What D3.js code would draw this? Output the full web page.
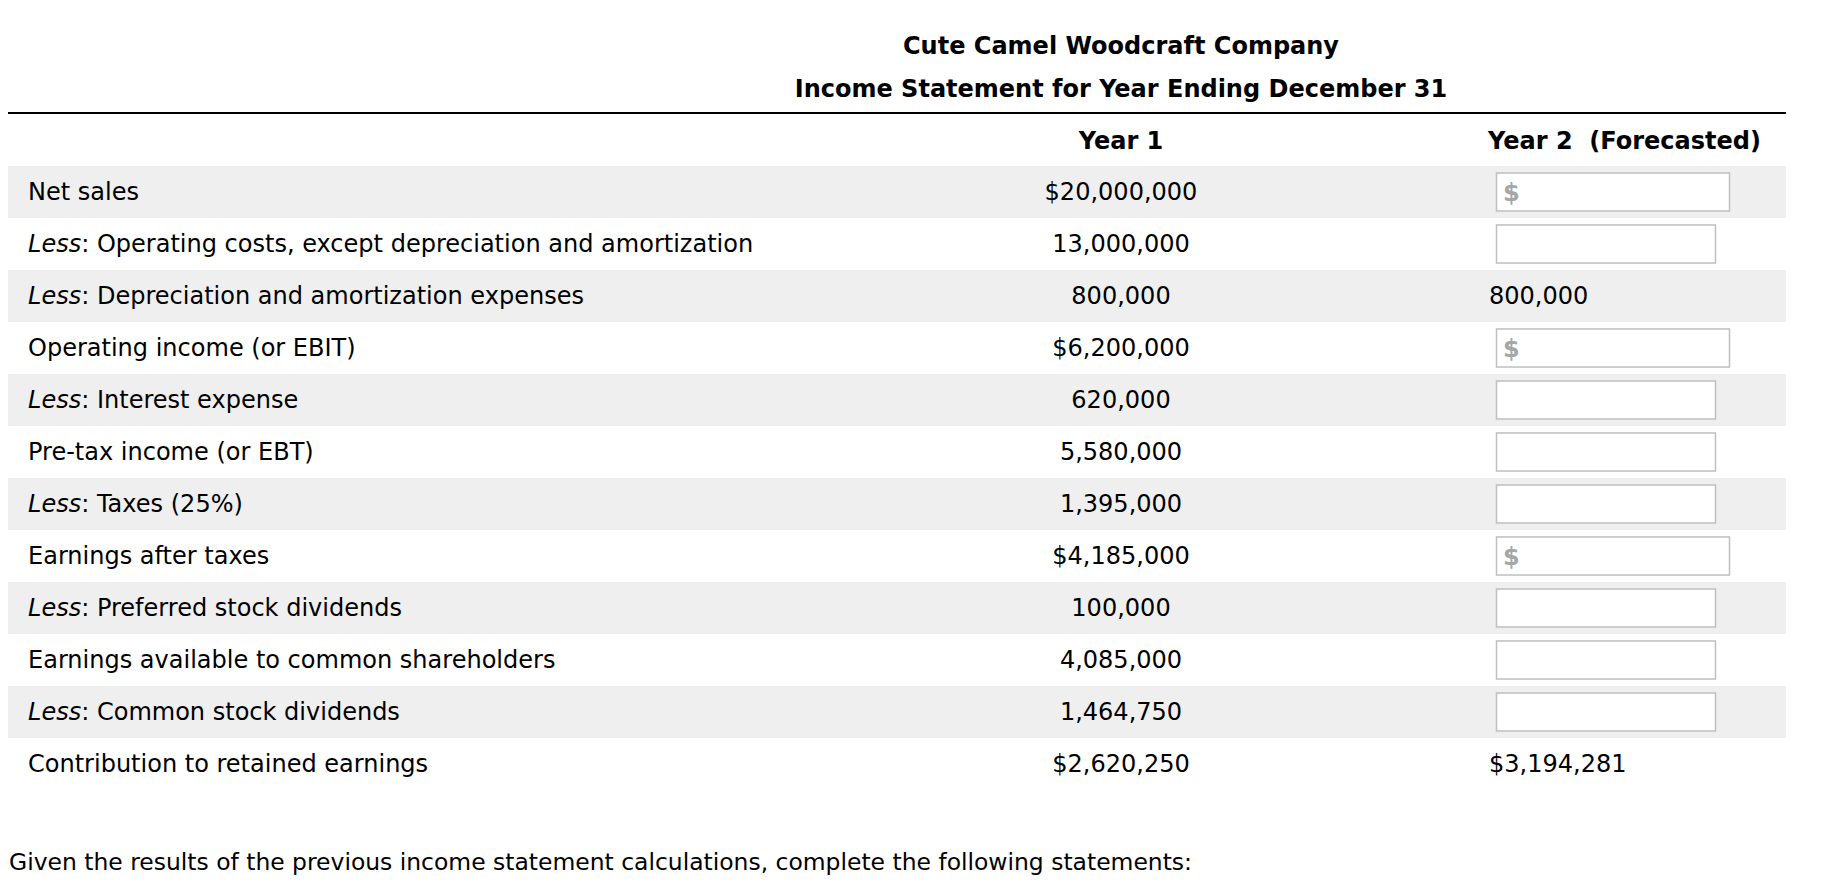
<!DOCTYPE html>
<html>
<head>
    <meta charset="utf-8">
    <title>Income Statement</title>
    <script src="https://cdn.jsdelivr.net/npm/d3@7"></script>
    <style>
        body { margin: 0; background: #fff; }
        text { font-family: "DejaVu Sans", Verdana, sans-serif; fill: #000; }
    </style>
</head>
<body>
<svg id="chart"></svg>
<script>
    const title = 'Cute Camel Woodcraft Company';
    const subtitle = 'Income Statement for Year Ending December 31';
    const columns = ['Year 1', 'Year 2  (Forecasted)'];
    const lessPrefix = [false, true, true, false, true, false, true, false, true, false, true, false];
    const labels = [
        'Net sales',
        'Operating costs, except depreciation and amortization',
        'Depreciation and amortization expenses',
        'Operating income (or EBIT)',
        'Interest expense',
        'Pre-tax income (or EBT)',
        'Taxes (25%)',
        'Earnings after taxes',
        'Preferred stock dividends',
        'Earnings available to common shareholders',
        'Common stock dividends',
        'Contribution to retained earnings'
    ];
    const year1 = ['$20,000,000', '13,000,000', '800,000', '$6,200,000', '620,000', '5,580,000',
        '1,395,000', '$4,185,000', '100,000', '4,085,000', '1,464,750', '$2,620,250'];
    // 'input$' = answer box with dollar sign, 'input' = plain answer box, else a given value
    const year2 = ['input$', 'input', '800,000', 'input$', 'input', 'input',
        'input', 'input$', 'input', 'input', 'input', '$3,194,281'];
    const footer = 'Given the results of the previous income statement calculations, complete the following statements:';

    const W = 1822, H = 894;
    const svg = d3.select('#chart').attr('width', W).attr('height', H);

    // rows
    const y = d3.scaleBand().domain(d3.range(labels.length)).range([166, 790]).padding(0);
    const colX = [1121, 1489];

    // fit a font size so a string fills a target width
    function fitSize(str, target, weight) {
        const t = svg.append('text').attr('font-size', 20).attr('font-weight', weight).text(str);
        const w = t.node().getComputedTextLength();
        t.remove();
        return 20 * target / w;
    }
    const bodySize = fitSize('Less: ' + labels[1], 725, 'normal');
    const headSize = fitSize(subtitle, 653, 'bold');
    const footSize = fitSize(footer, 1184, 'normal');

    // header
    svg.append('text').attr('x', 1121).attr('y', 46).attr('dy', '0.35em')
        .attr('text-anchor', 'middle').attr('font-weight', 'bold').attr('font-size', headSize)
        .text(title);
    svg.append('text').attr('x', 1121).attr('y', 89).attr('dy', '0.35em')
        .attr('text-anchor', 'middle').attr('font-weight', 'bold').attr('font-size', headSize)
        .text(subtitle);
    svg.append('line').attr('x1', 8).attr('x2', 1786).attr('y1', 113).attr('y2', 113)
        .attr('stroke', '#000').attr('stroke-width', 2);

    svg.append('text').attr('x', colX[0]).attr('y', 141).attr('dy', '0.35em')
        .attr('text-anchor', 'middle').attr('font-weight', 'bold').attr('font-size', bodySize)
        .text(columns[0]);
    svg.append('text').attr('x', 1488).attr('y', 141).attr('dy', '0.35em')
        .attr('font-weight', 'bold').attr('font-size', bodySize)
        .attr('xml:space', 'preserve').style('white-space', 'pre')
        .text(columns[1]);

    // striped rows
    svg.selectAll('rect.band')
        .data(labels.map((d, i) => i).filter(i => i % 2 === 0))
        .join('rect')
        .attr('class', 'band')
        .attr('x', 8).attr('width', 1786 - 8)
        .attr('y', i => y(i)).attr('height', y.bandwidth())
        .attr('fill', '#efefef');

    const rows = svg.selectAll('g.row')
        .data(labels)
        .join('g')
        .attr('class', 'row')
        .attr('transform', (d, i) => `translate(0,${y(i) + y.bandwidth() / 2})`);

    const lab = rows.append('text').attr('x', 28).attr('dy', '0.35em').attr('font-size', bodySize);
    lab.filter((d, i) => lessPrefix[i]).append('tspan').attr('font-style', 'italic').text('Less');
    lab.filter((d, i) => lessPrefix[i]).append('tspan').text(': ');
    lab.append('tspan').text(d => d);

    rows.append('text')
        .attr('x', colX[0]).attr('dy', '0.35em').attr('text-anchor', 'middle')
        .attr('font-size', bodySize)
        .text((d, i) => year1[i]);

    rows.filter((d, i) => !year2[i].startsWith('input'))
        .append('text')
        .attr('x', colX[1]).attr('dy', '0.35em').attr('font-size', bodySize)
        .text(d => year2[labels.indexOf(d)]);

    const boxes = rows.filter((d, i) => year2[i].startsWith('input'));
    boxes.append('rect')
        .attr('x', 1496.5).attr('y', -19)
        .attr('width', d => year2[labels.indexOf(d)] === 'input$' ? 233 : 219)
        .attr('height', 38)
        .attr('fill', '#fff').attr('stroke', '#bfbfbf').attr('stroke-width', 1.5);
    boxes.filter(d => year2[labels.indexOf(d)] === 'input$')
        .append('text')
        .attr('x', 1503).attr('dy', '0.38em')
        .attr('font-size', bodySize).attr('font-weight', 'bold')
        .style('fill', '#a6a6a6')
        .text('$');

    svg.append('text').attr('x', 9).attr('y', 862).attr('dy', '0.35em')
        .attr('font-size', footSize)
        .text(footer);
</script>
</body>
</html>
